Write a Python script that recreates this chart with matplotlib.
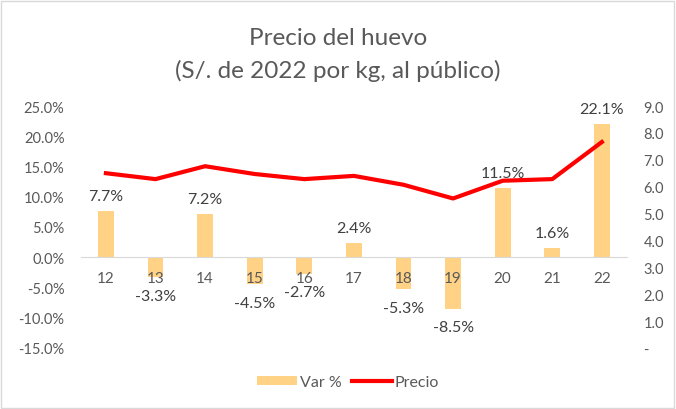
import matplotlib.pyplot as plt
import numpy as np

plt.rcParams['font.family'] = ['Lato', 'DejaVu Sans']

years = ['12', '13', '14', '15', '16', '17', '18', '19', '20', '21', '22']
var_pct = [7.7, -3.3, 7.2, -4.5, -2.7, 2.4, -5.3, -8.5, 11.5, 1.6, 22.1]
precio = [6.50, 6.28, 6.76, 6.47, 6.28, 6.40, 6.07, 5.56, 6.22, 6.28, 7.66]

grey = '#595959'
bar_color = '#FFD285'


def chart():
    fig = plt.figure(figsize=(6.76, 4.10), dpi=100)
    ax = fig.add_axes([0.12, 0.149, 0.807, 0.590])
    ax2 = ax.twinx()

    x = np.arange(len(years))
    ax.bar(x, var_pct, 0.32, color=bar_color, label='Var %', zorder=1)
    ax2.plot(x, precio, color='#FF0000', lw=3, label='Precio', solid_joinstyle='round')

    # data labels
    for xi, v in zip(x, var_pct):
        if v >= 0:
            ax.text(xi, v + 1.2, f'{v:.1f}%', ha='center', va='bottom', fontsize=11.5, color='#404040')
        else:
            ax.text(xi, v - 1.9, f'{v:.1f}%', ha='center', va='top', fontsize=11.5, color='#404040')

    ax.set_xlim(-0.5, len(years) - 0.5)
    ax.set_ylim(-15, 25)
    ax.set_yticks(np.arange(-15, 26, 5))
    ax.set_yticklabels([f'{t:.1f}%' for t in np.arange(-15, 26, 5)])
    ax2.set_ylim(0, 9)
    ax2.set_yticks(np.arange(0, 10, 1))
    ax2.set_yticklabels(['-'] + [f'{t:.1f}' for t in range(1, 10)])

    ax.set_xticks(x)
    ax.set_xticklabels(years)
    ax.spines['bottom'].set_position(('data', 0))
    ax.spines['bottom'].set_color('#D9D9D9')
    for s in ['top', 'left', 'right']:
        ax.spines[s].set_visible(False)
        ax2.spines[s].set_visible(False)
    ax2.spines['bottom'].set_visible(False)
    ax.tick_params(axis='x', length=0, pad=10, labelsize=11, labelcolor=grey)
    ax.tick_params(axis='y', length=0, pad=12, labelsize=10.5, labelcolor=grey)
    ax2.tick_params(axis='y', length=0, pad=12, labelsize=10.5, labelcolor=grey)
    ax.set_axisbelow(False)

    fig.text(0.5, 0.905, 'Precio del huevo', ha='center', va='center', fontsize=17.5, color=grey)
    fig.text(0.5, 0.826, '(S/. de 2022 por kg, al público)', ha='center', va='center', fontsize=17.5, color=grey)

    h1, l1 = ax.get_legend_handles_labels()
    h2, l2 = ax2.get_legend_handles_labels()
    fig.legend(h1 + h2, l1 + l2, loc='center', bbox_to_anchor=(0.515, 0.065), ncol=2, frameon=False,
               fontsize=11.5, labelcolor=grey, handlelength=2.5, handleheight=0.5, columnspacing=0.6,
               handletextpad=0.2)

    fig.patches.append(plt.Rectangle((0.002, 0.003), 0.995, 0.993, transform=fig.transFigure,
                                     fill=False, edgecolor='#D9D9D9', lw=1))
    fig.savefig('out.png', dpi=100)


if __name__ == '__main__':
    chart()
